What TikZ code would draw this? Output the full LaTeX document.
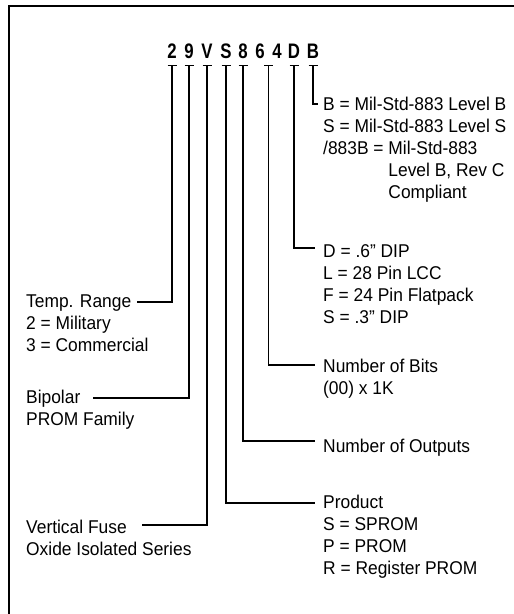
\documentclass[tikz,border=0pt]{standalone}
\usepackage{fontspec}
\usetikzlibrary{calc}
\setmainfont[FakeStretch=0.94]{Liberation Sans}
\newfontfamily\hdrfont[FakeStretch=0.8]{Liberation Sans}
\newcommand\txtlines[1]{\begin{tabular}[t]{@{}l@{}}#1\end{tabular}}
\begin{document}
\begin{tikzpicture}[x=1pt,y=-1pt,
  ln/.style={line width=1.4pt},
  frame/.style={line width=2pt},
  lbl/.style={font=\fontsize{18.5}{22}\selectfont, inner sep=0pt, anchor=base west},
  hdr/.style={font=\hdrfont\bfseries\fontsize{21}{21}\selectfont, inner sep=0pt, anchor=base, text depth=0pt}]
\useasboundingbox (0,0) rectangle (514,614);
\draw[frame] (9,614) -- (9,5.5) -- (514,5.5);
% header characters
\node[hdr] (c2) at (172,58) {2};
\node[hdr] (c9) at (189,58) {9};
\node[hdr] (cV) at (207,58) {V};
\node[hdr] (cS) at (226,58) {S};
\node[hdr] (c8) at (243,58) {8};
\node[hdr] (c6) at (260,58) {6};
\node[hdr] (c4) at (277,58) {4};
\node[hdr] (cD) at (294,58) {D};
\node[hdr] (cB) at (313,58) {B};
% T tops
\coordinate (T2) at ([yshift=-7pt]c2.south);
\coordinate (T9) at ([yshift=-7pt]c9.south);
\coordinate (TV) at ([yshift=-7pt]cV.south);
\coordinate (TS) at ([yshift=-7pt]cS.south);
\coordinate (T8) at ([yshift=-7pt]c8.south);
\coordinate (T64) at ($(c6.south)!0.5!(c4.south)+(0,7)$);
\coordinate (TD) at ([yshift=-7pt]cD.south);
\coordinate (TB) at ([yshift=-7pt]cB.south);
\foreach \t in {T2,T9,TV,TS,T8,T64,TD,TB}
  \draw[ln] ([xshift=-4.5pt]\t) -- ([xshift=4.5pt]\t);
% left labels
\node[lbl] (temp) at (26,307) {\txtlines{Temp. Range\\2 = Military\\3 = Commercial}};
\node[lbl] (bip) at (26,403) {\txtlines{Bipolar\\PROM Family}};
\node[lbl] (vert) at (26,533) {\txtlines{Vertical Fuse\\Oxide Isolated Series}};
\coordinate (e2) at (137,302);
\coordinate (e9) at (93,398);
\coordinate (eV) at (142,525);
\draw[ln] (T2) |- (e2);
\draw[ln] (T9) |- (e9);
\draw[ln] (TV) |- (eV);
% right labels
\node[lbl] (lvl) at (323,110) {\txtlines{B = Mil-Std-883 Level B\\S = Mil-Std-883 Level S\\/883B = Mil-Std-883\\\hphantom{/883B = }Level B, Rev C\\\hphantom{/883B = }Compliant}};
\node[lbl] (pkg) at (323,257) {\txtlines{D = .6'' DIP\\L = 28 Pin LCC\\F = 24 Pin Flatpack\\S = .3'' DIP}};
\node[lbl] (bits) at (323,372) {\txtlines{Number of Bits\\(00) x 1K}};
\node[lbl] (outs) at (323,452) {Number of Outputs};
\node[lbl] (prod) at (323,508) {\txtlines{Product\\S = SPROM\\P = PROM\\R = Register PROM}};
\coordinate (eB) at (318,104);
\coordinate (eD) at (315,248);
\coordinate (e64) at (315,365);
\coordinate (e8) at (315,441);
\coordinate (eS) at (315,503);
\draw[ln] (TB) |- (eB);
\draw[ln] (TD) |- (eD);
\draw[ln] (T64) |- (e64);
\draw[ln] (T8) |- (e8);
\draw[ln] (TS) |- (eS);
\end{tikzpicture}
\end{document}
